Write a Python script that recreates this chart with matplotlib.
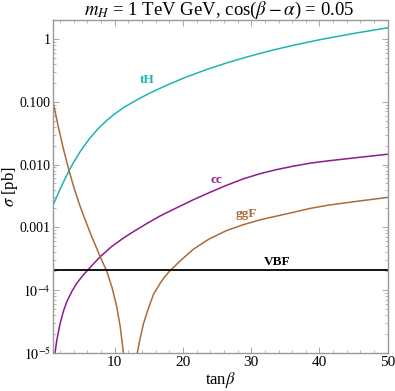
import numpy as np
import matplotlib
matplotlib.use("Agg")
import matplotlib.pyplot as plt
from matplotlib.ticker import FixedLocator, NullFormatter, LogLocator, MultipleLocator

plt.rcParams['font.family'] = 'serif'
plt.rcParams['font.serif'] = ['Liberation Serif', 'DejaVu Serif']
plt.rcParams['mathtext.fontset'] = 'stix'

# tH
tH_t = [1, 1.5, 2, 2.7, 3.35, 3.93, 5, 6.38, 7.5, 8.83, 10, 11.5, 13.7, 15.5, 18.1,
        20.5, 23.5, 26.4, 29.5, 32.5, 36.2, 40, 45, 50]
tH_v = [0.00231, 0.00307, 0.00407, 0.0059, 0.00815, 0.01064, 0.01648, 0.02655, 0.03664,
        0.0504, 0.0641, 0.0834, 0.114, 0.1432, 0.1932, 0.2477, 0.3266, 0.415, 0.521,
        0.637, 0.794, 0.970, 1.222, 1.503]
# cc
cc_t = [1.1, 1.25, 1.5, 1.98, 2.5, 2.96, 3.7, 4.43, 5.3, 6.13, 7.85, 9.5, 11.3, 13,
        14.7, 16.6, 18.1, 21.5, 24, 26.4, 28.8, 31.3, 33.7, 36.2, 38.6, 41.1, 45.5, 50]
cc_v = [5.0e-6, 1e-5, 1.58e-5, 2.9e-5, 4.7e-5, 6.5e-5, 9.5e-5, 1.29e-4, 1.7e-4, 2.14e-4,
        3.4e-4, 4.9e-4, 6.8e-4, 8.9e-4, 1.15e-3, 1.51e-3, 1.82e-3, 2.75e-3, 3.63e-3,
        4.68e-3, 5.9e-3, 7.16e-3, 8.3e-3, 9.44e-3, 1.05e-2, 1.14e-2, 1.29e-2, 1.46e-2]
# ggF (two branches around the zero crossing)
ggF1_t = [1, 1.7, 2.5, 3.35, 4.1, 4.8, 5.4, 6.5, 7.85, 8.83, 9.6, 10.3, 10.8, 11.26,
          11.6, 11.9]
ggF1_v = [0.0955, 0.0413, 0.0174, 0.00764, 0.00404, 0.00237, 0.00157, 7.71e-4, 3.44e-4,
          2.0e-4, 1.11e-4, 5.4e-5, 2.64e-5, 1.02e-5, 3.2e-6, 6.3e-7]
ggF2_t = [12.7, 13.0, 13.3, 13.7, 14.2, 14.9, 15.7, 16.6, 17.3, 18.1, 19.7, 21.5, 23.8,
          26.4, 28.8, 31.3, 33.7, 36.2, 38.6, 41.1, 45.5, 50]
ggF2_v = [6.3e-7, 3.2e-6, 1e-5, 1.66e-5, 2.9e-5, 5.0e-5, 8.7e-5, 1.26e-4, 1.62e-4,
          2.04e-4, 3.0e-4, 4.47e-4, 6.5e-4, 8.9e-4, 1.1e-3, 1.32e-3, 1.51e-3, 1.74e-3,
          2.0e-3, 2.24e-3, 2.6e-3, 3.0e-3]
# VBF
vbf_value = 2.1e-4

ytick_vals = [1e-5, 1e-4, 1e-3, 1e-2, 1e-1, 1]
ytick_labels = [r'$10^{-5}$', r'$10^{-4}$', '0.001', '0.010', '0.100', '1']
xtick_vals = [10, 20, 30, 40, 50]

c_tH = '#1fb3b3'
c_cc = '#8e1a8e'
c_ggF = '#a86c3c'

fig = plt.figure(figsize=(3.95, 3.91), dpi=100)
ax = fig.add_axes([0.135, 0.0972, 0.8465, 0.8516])

ax.plot(tH_t, tH_v, color=c_tH, lw=1.1)
ax.plot(cc_t, cc_v, color=c_cc, lw=1.1)
ax.plot(ggF1_t, ggF1_v, color=c_ggF, lw=1.1)
ax.plot(ggF2_t, ggF2_v, color=c_ggF, lw=1.1)
ax.axhline(vbf_value, color='black', lw=1.3)

ax.set_yscale('log')
ax.set_xlim(1, 50)
ax.set_ylim(1e-5, 2)

ax.yaxis.set_major_locator(FixedLocator(ytick_vals))
ax.set_yticklabels(ytick_labels)
ax.yaxis.set_minor_locator(LogLocator(base=10, subs=np.arange(2, 10)))
ax.yaxis.set_minor_formatter(NullFormatter())
ax.xaxis.set_major_locator(FixedLocator(xtick_vals))
ax.xaxis.set_minor_locator(MultipleLocator(2))

ax.tick_params(which='both', direction='in', top=True, right=True, colors='#999999',
               labelcolor='black')
ax.tick_params(axis='y', labelsize=10)
ax.tick_params(axis='x', labelsize=11)
ax.tick_params(which='major', length=4, width=0.6, pad=2)
ax.tick_params(which='minor', length=2, width=0.5)
for s in ax.spines.values():
    s.set_color('#999999')
    s.set_linewidth(1.0)

ax.set_xlabel(r'tan$\beta$', fontsize=12, labelpad=1)
ax.set_ylabel(r'$\sigma$ [pb]', fontsize=12)
ax.yaxis.set_label_coords(-0.1, 0.5)
fig.text(0.555, 0.962, r'$m_H$ = 1 TeV GeV, cos($\beta - \alpha$) = 0.05',
         fontsize=13.5, ha='center', va='baseline')

ax.text(14.7, 0.22, 'tH', color=c_tH, fontsize=9.5, fontweight='bold', ha='center', va='center')
ax.text(24.9, 5.6e-3, 'cc', color=c_cc, fontsize=9.5, fontweight='bold', ha='center', va='center')
ax.text(29.3, 1.66e-3, 'ggF', color=c_ggF, fontsize=9.5, fontweight='bold', ha='center', va='center')
ax.text(33.8, 2.85e-4, 'VBF', color='black', fontsize=9.5, fontweight='bold', ha='center', va='center')

fig.savefig('out.png', dpi=100)
